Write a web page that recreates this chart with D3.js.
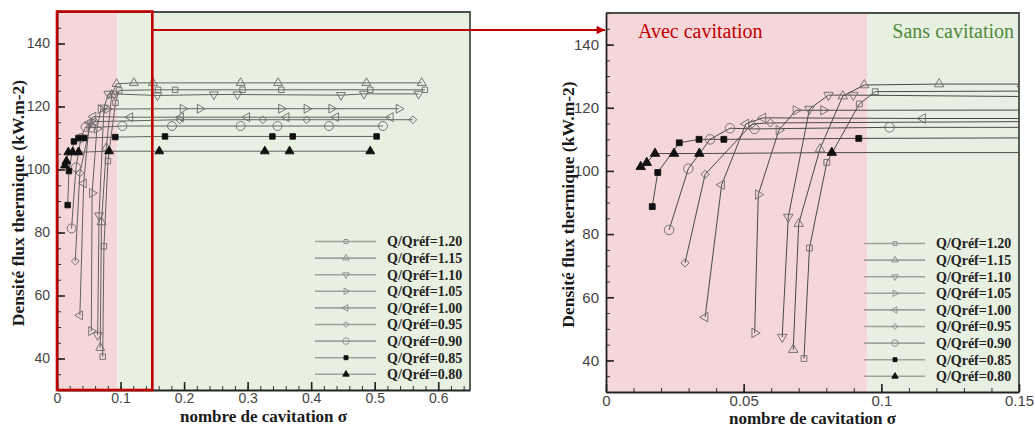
<!DOCTYPE html>
<html>
<head>
<meta charset="utf-8">
<script src="https://cdn.jsdelivr.net/npm/d3@7"></script>
<style>
  body { margin: 0; background: #fff; }
  svg text { font-family: "Liberation Serif", "Times New Roman", serif; }
  .tick text { font-family: "Liberation Sans", Arial, sans-serif; fill: #444; }
</style>
</head>
<body>
<script>
// chart.js

    var width = 1035,
        height = 427;

    // Series labels (legend order, top to bottom).
    var qLabels = ["Q/Qréf=1.20", "Q/Qréf=1.15", "Q/Qréf=1.10", "Q/Qréf=1.05", "Q/Qréf=1.00",
                   "Q/Qréf=0.95", "Q/Qréf=0.90", "Q/Qréf=0.85", "Q/Qréf=0.80"];

    // Cavitation number (sigma) and heat flux density (kW.m-2).
    var sigma120 = [0.0719, 0.0739, 0.0802, 0.092, 0.0978, 0.159, 0.186, 0.292, 0.353, 0.493, 0.579];
    var flux120  = [40.6, 75.6, 102.7, 121.2, 125.1, 125.3, 125.3, 125.3, 125.3, 125.3, 125.3];

    var sigma115 = [0.068, 0.070, 0.0777, 0.086, 0.0938, 0.121, 0.151, 0.289, 0.348, 0.487, 0.574];
    var flux115  = [43.4, 83.3, 106.9, 123.7, 127.2, 127.5, 127.5, 127.5, 127.5, 127.5, 127.5];

    var sigma110 = [0.064, 0.0662, 0.0739, 0.0808, 0.0898, 0.158, 0.247, 0.284, 0.447, 0.483, 0.569];
    var flux110  = [47.4, 85.4, 119.6, 124.0, 124.0, 123.5, 123.8, 123.8, 123.6, 124.0, 124.0];

    var sigma105 = [0.054, 0.0553, 0.0628, 0.069, 0.079, 0.198, 0.225, 0.353, 0.393, 0.432, 0.538];
    var flux105  = [48.7, 92.5, 112.9, 119.2, 119.2, 119.3, 119.3, 119.3, 119.3, 119.3, 119.3];

    var sigma100 = [0.036, 0.042, 0.0508, 0.057, 0.115, 0.195, 0.299, 0.361, 0.439, 0.525];
    var flux100  = [53.7, 95.6, 114.9, 116.8, 116.6, 116.6, 116.6, 116.6, 116.6, 116.6];

    var sigma095 = [0.0287, 0.036, 0.0531, 0.0597, 0.193, 0.324, 0.393, 0.560];
    var flux095  = [70.9, 98.9, 114.9, 115.2, 115.8, 115.8, 115.8, 115.8];

    var sigma090 = [0.0229, 0.0299, 0.0378, 0.045, 0.0539, 0.103, 0.181, 0.289, 0.347, 0.428, 0.513];
    var flux090  = [81.3, 100.7, 110.0, 113.5, 113.3, 113.8, 113.8, 113.8, 113.8, 113.8, 113.8];

    var sigma085 = [0.0168, 0.0188, 0.0266, 0.0338, 0.0428, 0.0918, 0.170, 0.339, 0.371, 0.503];
    var flux085  = [88.7, 99.5, 108.9, 110.0, 110.0, 110.3, 110.5, 110.5, 110.5, 110.5];

    var sigma080 = [0.0126, 0.0148, 0.0178, 0.0247, 0.0339, 0.082, 0.161, 0.327, 0.366, 0.493];
    var flux080  = [101.3, 102.6, 105.5, 105.5, 105.5, 105.8, 105.8, 105.8, 105.8, 105.8];

    // Tick labels.
    var yTickValues   = [40, 60, 80, 100, 120, 140];
    var leftXTicks    = [0, 0.1, 0.2, 0.3, 0.4, 0.5, 0.6];
    var leftXLabels   = ["0", "0.1", "0.2", "0.3", "0.4", "0.5", "0.6"];
    var rightXTicks   = [0, 0.05, 0.1, 0.15];
    var rightXLabels  = ["0", "0.05", "0.1", "0.15"];

    var cavitationLimit = 0.095; // Sigma where the shaded "with cavitation" zone ends.
    var zoomLimit = 0.15;        // Range of the left panel shown enlarged on the right.

    var seriesData = [
        [sigma120, flux120], [sigma115, flux115], [sigma110, flux110],
        [sigma105, flux105], [sigma100, flux100], [sigma095, flux095],
        [sigma090, flux090], [sigma085, flux085], [sigma080, flux080]
    ];

    // Marker for each series (same order as labels).
    var markerTypes = ["square", "triangleUp", "triangleDown", "triangleRight", "triangleLeft",
                       "diamond", "circle", "squareFilled", "triangleFilled"];

    var pink = "#f5d6d9",
        green = "#e8f0e1",
        red = "#c00000";

    var svg = d3.select("body").append("svg")
        .attr("width", width)
        .attr("height", height);

    svg.append("defs").append("marker")
        .attr("id", "arrowHead")
        .attr("viewBox", "0 0 10 10")
        .attr("refX", 10).attr("refY", 5)
        .attr("markerWidth", 5).attr("markerHeight", 4.2)
        .attr("markerUnits", "strokeWidth")
        .attr("orient", "auto")
        .append("path").attr("d", "M0,0 L10,5 L0,10 z").attr("fill", red);

    function markerPath(type, size) {
        var base = type.indexOf("square") === 0 || type === "diamond" ? d3.symbolSquare
                 : type === "circle" ? d3.symbolCircle : d3.symbolTriangle;
        var s = type === "circle" ? size * 2.1 : (type.indexOf("triangle") === 0 ? size * 1.15 : size);
        return d3.symbol().type(base).size(s)();
    }

    function markerRotation(type) {
        if (type === "triangleDown") return 180;
        if (type === "triangleRight") return 90;
        if (type === "triangleLeft") return -90;
        if (type === "diamond") return 45;
        return 0;
    }

    function isFilled(type) { return type.indexOf("Filled") > 0; }

    function drawMarker(g, type, cx, cy, size, openColor) {
        g.append("path")
            .attr("d", markerPath(type, size))
            .attr("transform", "translate(" + cx + "," + cy + ") rotate(" + markerRotation(type) + ")")
            .attr("fill", isFilled(type) ? "#111" : "none")
            .attr("stroke", isFilled(type) ? "#111" : openColor)
            .attr("stroke-width", 0.9);
    }

    function drawPanel(p, id) {
        var g = svg.append("g");

        var xScale = d3.scaleLinear().domain([0, p.xMax]).range([p.x0, p.x1]);
        var yScale = d3.scaleLinear().domain([30, 150]).range([p.y1, p.y0]);

        // Shaded zones.
        g.append("rect")
            .attr("x", xScale(0)).attr("y", p.y0)
            .attr("width", xScale(cavitationLimit) - xScale(0)).attr("height", p.y1 - p.y0)
            .attr("fill", pink);
        g.append("rect")
            .attr("x", xScale(cavitationLimit)).attr("y", p.y0)
            .attr("width", p.x1 - xScale(cavitationLimit)).attr("height", p.y1 - p.y0)
            .attr("fill", green);

        svg.select("defs").append("clipPath").attr("id", "clip" + id)
            .append("rect").attr("x", p.x0).attr("y", p.y0)
            .attr("width", p.x1 - p.x0).attr("height", p.y1 - p.y0);

        var plot = g.append("g").attr("clip-path", "url(#clip" + id + ")");

        var line = d3.line()
            .x(function(d) { return xScale(d[0]); })
            .y(function(d) { return yScale(d[1]); });

        seriesData.forEach(function(s, i) {
            var pts = s[0].map(function(v, k) { return [v, s[1][k]]; });
            plot.append("path")
                .attr("d", line(pts))
                .attr("fill", "none")
                .attr("stroke", p.lineColor)
                .attr("stroke-width", 1);
        });

        seriesData.forEach(function(s, i) {
            s[0].forEach(function(v, k) {
                drawMarker(plot, markerTypes[i], xScale(v), yScale(s[1][k]), p.markerSize, "#6a6a6a");
            });
        });

        // Legend.
        var legendTop = p.y1 - 148.5;
        qLabels.forEach(function(label, i) {
            var ly = legendTop + i * 16.6;
            g.append("line")
                .attr("x1", p.x1 - 155).attr("x2", p.x1 - 94)
                .attr("y1", ly).attr("y2", ly)
                .attr("stroke", "#a0a39c").attr("stroke-width", 1.6);
            drawMarker(g, markerTypes[i], p.x1 - 124, ly, 16, "#8a8a8a");
            g.append("text")
                .attr("x", p.x1 - 83).attr("y", ly).attr("dy", "0.35em")
                .style("font-size", "14px").style("font-weight", "bold")
                .attr("fill", "#222")
                .text(label);
        });

        // Frame (top and right).
        g.append("path")
            .attr("d", "M" + p.x0 + "," + p.y0 + "H" + p.x1 + "V" + p.y1)
            .attr("fill", "none").attr("stroke", "#4a4f48").attr("stroke-width", 1.8);

        // Minor ticks.
        g.append("g")
            .attr("transform", "translate(0," + p.y1 + ")")
            .call(d3.axisBottom(xScale).tickValues(d3.range(0, p.xMax + 1e-9, p.xMinor))
                .tickSize(-4).tickFormat(""))
            .call(function(a) { a.select(".domain").remove(); a.selectAll("line").attr("stroke", "#333"); });
        g.append("g")
            .attr("transform", "translate(" + p.x0 + ",0)")
            .call(d3.axisLeft(yScale).tickValues(d3.range(30, 151, 5))
                .tickSize(-4).tickFormat(""))
            .call(function(a) { a.select(".domain").remove(); a.selectAll("line").attr("stroke", "#333"); });

        // Major ticks with labels.
        g.append("g")
            .attr("transform", "translate(0," + p.y1 + ")")
            .call(d3.axisBottom(xScale).tickValues(p.xTicks)
                .tickFormat(function(d, i) { return p.xLabels[i]; })
                .tickSizeInner(-8).tickSizeOuter(0).tickPadding(p.tickPad))
            .call(function(a) {
                a.select(".domain").attr("stroke", "#222").attr("stroke-width", 1.8);
                a.selectAll("line").attr("stroke", "#222").attr("stroke-width", 1.6);
                a.selectAll("text").style("font-size", p.tickFont + "px");
            });
        g.append("g")
            .attr("transform", "translate(" + p.x0 + ",0)")
            .call(d3.axisLeft(yScale).tickValues(yTickValues)
                .tickSizeInner(-8).tickSizeOuter(0).tickPadding(7))
            .call(function(a) {
                a.select(".domain").attr("stroke", "#222").attr("stroke-width", 1.8);
                a.selectAll("line").attr("stroke", "#222").attr("stroke-width", 1.6);
                a.selectAll("text").style("font-size", p.tickFont + "px");
            });

        // Axis titles.
        g.append("text")
            .attr("x", (p.x0 + p.x1) / 2).attr("y", p.y1 + 32)
            .attr("text-anchor", "middle")
            .style("font-size", "17px").style("font-weight", "bold")
            .attr("fill", "#1a1a1a")
            .text("nombre de cavitation σ");
        g.append("text")
            .attr("transform", "translate(" + p.titleX + "," + ((p.y0 + p.y1) / 2 + 2) + ") rotate(-90)")
            .attr("text-anchor", "middle")
            .style("font-size", "17.5px").style("font-weight", "bold")
            .attr("fill", "#1a1a1a")
            .text("Densité flux thermique (kW.m-2)");

        return { x: xScale, y: yScale };
    }

    var leftPanel = { x0: 57, x1: 470, y0: 12, y1: 390, xMax: 0.65, xMinor: 0.02,
                      xTicks: leftXTicks, xLabels: leftXLabels, tickPad: 3, tickFont: 14,
                      titleX: 24, markerSize: 30, lineColor: "#626262" };
    var rightPanel = { x0: 606, x1: 1019, y0: 13, y1: 392, xMax: 0.15, xMinor: 0.01,
                       xTicks: rightXTicks, xLabels: rightXLabels, tickPad: 3, tickFont: 15,
                       titleX: 574, markerSize: 34, lineColor: "#4a4a4a" };

    var L = drawPanel(leftPanel, 0);
    var R = drawPanel(rightPanel, 1);

    // Zoomed region on the left panel and arrow to the enlarged view.
    svg.append("rect")
        .attr("x", L.x(0)).attr("y", leftPanel.y0 - 0.5)
        .attr("width", L.x(zoomLimit) - L.x(0)).attr("height", leftPanel.y1 - leftPanel.y0 + 0.5)
        .attr("fill", "none").attr("stroke", red).attr("stroke-width", 2.6);

    var arrowY = leftPanel.y0 + 18;
    svg.append("line")
        .attr("x1", L.x(zoomLimit)).attr("x2", rightPanel.x0 - 1)
        .attr("y1", arrowY).attr("y2", arrowY)
        .attr("stroke", red).attr("stroke-width", 2)
        .attr("marker-end", "url(#arrowHead)");

    // Zone labels on the right panel.
    svg.append("text")
        .attr("x", 638).attr("y", 38)
        .style("font-size", "20px")
        .attr("fill", red)
        .text("Avec cavitation");
    svg.append("text")
        .attr("x", rightPanel.x1 - 5).attr("y", 38)
        .attr("text-anchor", "end")
        .style("font-size", "20px")
        .attr("fill", "#4e8b3a")
        .text("Sans cavitation");
</script>
</body>
</html>
